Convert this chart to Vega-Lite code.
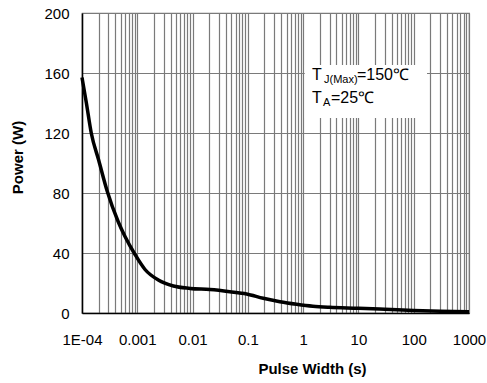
{
  "$schema": "https://vega.github.io/schema/vega-lite/v6.json",
  "width": 387,
  "height": 300,
  "autosize": {"type": "none"},
  "padding": {"left": 82, "top": 13, "right": 18, "bottom": 70},
  "background": "white",
  "config": {
    "font": "Liberation Sans",
    "view": {"stroke": "#7a7a7a", "strokeWidth": 1.2}
  },
  "encoding": {
    "x": {
      "field": "x",
      "type": "quantitative",
      "scale": {"type": "log", "domain": [0.0001, 1000], "nice": false},
      "axis": {
        "title": "Pulse Width (s)",
        "values": [0.0001, 0.0002, 0.0003, 0.0004, 0.0005, 0.0006, 0.0007, 0.0008, 0.0009,
                   0.001, 0.002, 0.003, 0.004, 0.005, 0.006, 0.007, 0.008, 0.009,
                   0.01, 0.02, 0.03, 0.04, 0.05, 0.06, 0.07, 0.08, 0.09,
                   0.1, 0.2, 0.3, 0.4, 0.5, 0.6, 0.7, 0.8, 0.9,
                   1, 2, 3, 4, 5, 6, 7, 8, 9,
                   10, 20, 30, 40, 50, 60, 70, 80, 90,
                   100, 200, 300, 400, 500, 600, 700, 800, 900, 1000],
        "labelExpr": "datum.value < 0.00011 ? '1E-04' : (abs(log(datum.value)/LN10 - round(log(datum.value)/LN10)) < 0.0001 ? format(datum.value, '~g') : '')",
        "labelOverlap": false,
        "labelFlush": false,
        "labelFontSize": 15,
        "labelColor": "black",
        "labelBaseline": "alphabetic",
        "labelPadding": 31,
        "ticks": false,
        "grid": true,
        "gridColor": "#7a7a7a",
        "gridWidth": 1.2,
        "domainColor": "black",
        "domainWidth": 1.5,
        "titleFontSize": 15,
        "titleFontWeight": "bold",
        "titleColor": "black",
        "titleX": 230,
        "titleY": 60,
        "titleBaseline": "alphabetic"
      }
    },
    "y": {
      "field": "y",
      "type": "quantitative",
      "scale": {"domain": [0, 200], "nice": false},
      "axis": {
        "title": "Power (W)",
        "values": [0, 40, 80, 120, 160, 200],
        "labelFontSize": 15,
        "labelColor": "black",
        "labelPadding": 13,
        "ticks": false,
        "grid": true,
        "gridColor": "#7a7a7a",
        "gridWidth": 1.2,
        "domainColor": "black",
        "domainWidth": 1.5,
        "titleFontSize": 15,
        "titleFontWeight": "bold",
        "titleColor": "black",
        "titleX": -65,
        "titleY": 144,
        "titleAngle": -90,
        "titleAlign": "center",
        "titleBaseline": "middle"
      }
    }
  },
  "layer": [
    {
      "data": {"values": [{"x": 0.001}, {"x": 0.01}, {"x": 0.1}]},
      "mark": {"type": "rule", "color": "black", "strokeWidth": 1},
      "encoding": {"y": {"datum": 0}, "y2": {"datum": 200}}
    },
    {
      "data": {"values": [{"x": 1.07, "x2": 174, "y": 165.3, "y2": 130}]},
      "mark": {"type": "rect", "color": "white"},
      "encoding": {"x2": {"field": "x2"}, "y2": {"field": "y2"}}
    },
    {
      "data": {"values": [
        {"x": 0.0001, "y": 157},
        {"x": 0.00012, "y": 140},
        {"x": 0.000147, "y": 120},
        {"x": 0.0002, "y": 102},
        {"x": 0.000287, "y": 81},
        {"x": 0.00045, "y": 61},
        {"x": 0.0006, "y": 51},
        {"x": 0.00091, "y": 39},
        {"x": 0.00138, "y": 29},
        {"x": 0.0024, "y": 22},
        {"x": 0.0045, "y": 18},
        {"x": 0.009, "y": 16.4},
        {"x": 0.0206, "y": 15.6},
        {"x": 0.047, "y": 14.2},
        {"x": 0.095, "y": 12.7},
        {"x": 0.19, "y": 9.8},
        {"x": 0.38, "y": 7.5},
        {"x": 0.76, "y": 5.8},
        {"x": 1.5, "y": 4.5},
        {"x": 3, "y": 3.8},
        {"x": 10, "y": 3.2},
        {"x": 30, "y": 2.5},
        {"x": 100, "y": 1.7},
        {"x": 300, "y": 1.2},
        {"x": 1000, "y": 0.9}
      ]},
      "mark": {"type": "line", "color": "black", "strokeWidth": 3.5, "interpolate": "monotone"}
    },
    {
      "data": {"values": [
        {"x": 1.44, "y": 155.3, "label": "T"},
        {"x": 9.4, "y": 155.3, "label": "=150℃"},
        {"x": 1.44, "y": 140, "label": "T"},
        {"x": 3.18, "y": 140, "label": "=25℃"}
      ]},
      "mark": {"type": "text", "align": "left", "baseline": "alphabetic", "fontSize": 16, "color": "black"},
      "encoding": {"text": {"field": "label"}}
    },
    {
      "data": {"values": [
        {"x": 2.38, "y": 153.3, "label": "J(Max)"},
        {"x": 2.28, "y": 138, "label": "A"}
      ]},
      "mark": {"type": "text", "align": "left", "baseline": "alphabetic", "fontSize": 11, "color": "black"},
      "encoding": {"text": {"field": "label"}}
    }
  ]
}
